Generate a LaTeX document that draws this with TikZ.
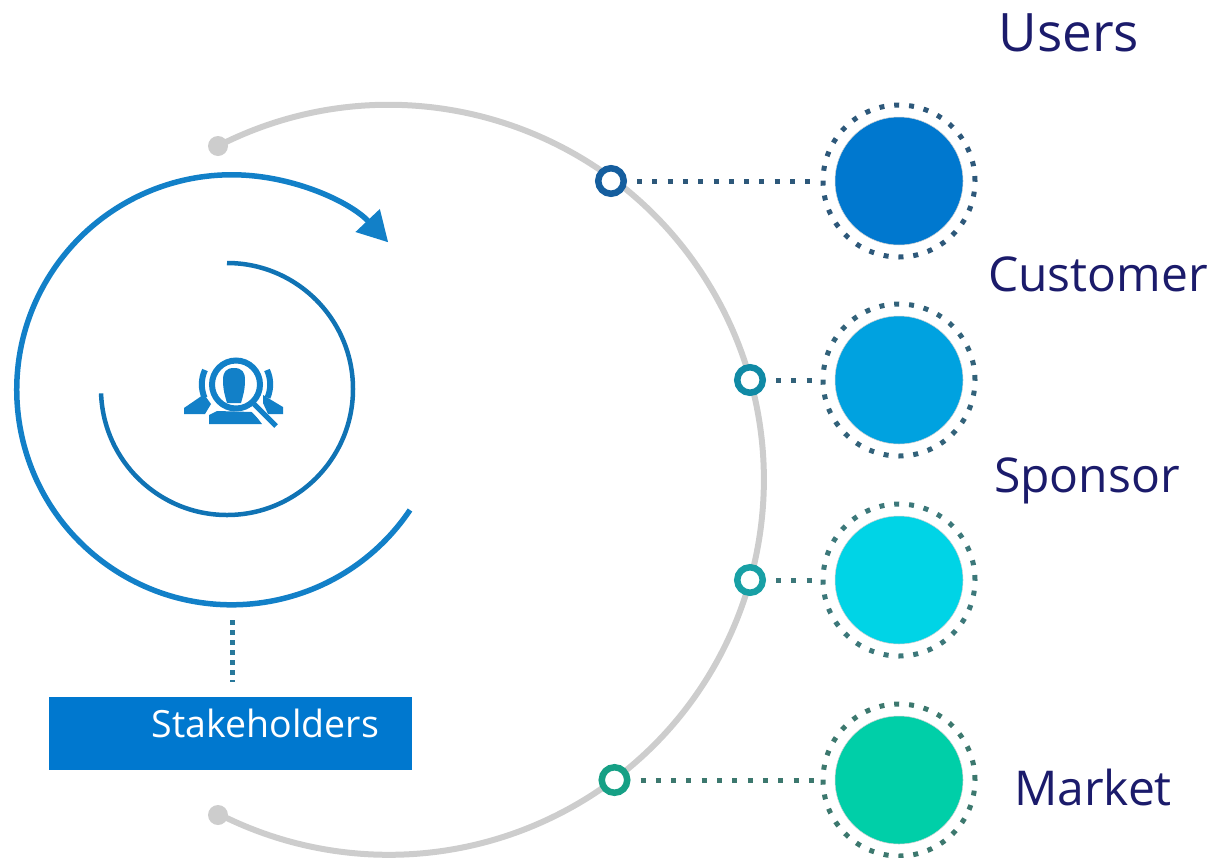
\documentclass[tikz,border=0pt]{standalone}
\usepackage{fontspec}
\setmainfont{Open Sans}
\usetikzlibrary{arrows.meta,positioning}
\definecolor{ringgrey}{HTML}{CDCDCD}
\definecolor{mainblue}{HTML}{0078CF}
\definecolor{iconblue}{HTML}{1280C8}
\definecolor{navytext}{HTML}{1B1B6B}
\tikzset{
  bigdot/.style={circle, inner sep=0pt, outer sep=0pt, minimum size=128pt, draw=gray!35, line width=0.5pt},
  dotring/.style={circle, inner sep=0pt, minimum size=152pt, draw, line width=5pt, dash pattern=on 5pt off 9.9pt},
  knot/.style={circle, inner sep=0pt, minimum size=25.5pt, fill=white, line width=6.5pt, draw},
  dotlink/.style={line width=5pt, dash pattern=on 5pt off 10.3pt, shorten <=10pt},
  heading/.style={text=navytext, inner sep=0pt, anchor=base}
}
\begin{document}
\begin{tikzpicture}[x=1pt, y=-1pt]
\useasboundingbox (0,0) rectangle (1217,857);

% big grey arc
\node (startdot) [circle, fill=ringgrey, inner sep=0pt, minimum size=20pt] at (218,146) {};
\node (enddot) [circle, fill=ringgrey, inner sep=0pt, minimum size=20pt] at (218,815) {};
\draw[ringgrey, line width=6pt] (startdot.center) arc[start angle=117.1, end angle=-117, radius=375pt];

% blue spiral
\draw[iconblue, line width=5.5pt, -{Triangle[length=30pt, width=32pt]}] (410,510) arc[start angle=-34, end angle=-316.7, radius=215pt];
\draw[iconblue!90!black, line width=4.5pt] (227,263) arc[start angle=90, end angle=-178, radius=126pt];

% person icon
\fill[iconblue] (234,368) .. controls (226,368) and (223,372) .. (223,380) .. controls (223,390) and (225,396) .. (227,403) -- (241,403) .. controls (243,396) and (245,390) .. (245,380) .. controls (245,372) and (242,368) .. (234,368) -- cycle;
\draw[iconblue, line width=6pt] (236,384.5) circle[radius=24pt];
\fill[iconblue] (209,424) -- (209,415) -- (217,411) -- (253,412) -- (262,424) -- cycle;
\fill[iconblue] (184,414) -- (184,408) -- (203,395) -- (206,397) -- (211,404) -- (205,414) -- cycle;
\fill[iconblue] (283,414) -- (283,407) -- (263,395) -- (263,403) -- (268,414) -- cycle;
\draw[iconblue, line width=6pt] (205,370) arc[start angle=155, end angle=203, radius=34pt];
\draw[iconblue, line width=6pt] (267,370) arc[start angle=25, end angle=-23, radius=34pt];
\draw[white, line width=3pt] (250,408) -- (272,430);
\draw[iconblue, line width=5pt] (254,404) -- (276,426);

% right column
\node (users) [bigdot, fill=mainblue] at (899,181) {};
\node (customer) [bigdot, fill={rgb,255:red,0;green,162;blue,224}, below=71pt of users] {};
\node (sponsor) [bigdot, fill={rgb,255:red,0;green,212;blue,230}, below=72pt of customer] {};
\node (market) [bigdot, fill={rgb,255:red,0;green,207;blue,168}, below=72pt of sponsor] {};

\node (usersring) [dotring, draw={rgb,255:red,45;green,88;blue,122}] at (users) {};
\node (customerring) [dotring, draw={rgb,255:red,50;green,98;blue,122}] at (customer) {};
\node (sponsorring) [dotring, draw={rgb,255:red,60;green,120;blue,122}] at (sponsor) {};
\node (marketring) [dotring, draw={rgb,255:red,60;green,120;blue,110}] at (market) {};

\node (k1) [knot, draw={rgb,255:red,21;green,94;blue,158}] at (611,181) {};
\node (k2) [knot, draw={rgb,255:red,16;green,138;blue,165}] at (750,380) {};
\node (k3) [knot, draw={rgb,255:red,24;green,160;blue,165}] at (750,580) {};
\node (k4) [knot, draw={rgb,255:red,22;green,160;blue,133}] at (614.5,780) {};

\draw[dotlink, draw={rgb,255:red,45;green,88;blue,122}] (k1) -- (usersring);
\draw[dotlink, draw={rgb,255:red,50;green,98;blue,122}] (k2) -- (customerring);
\draw[dotlink, draw={rgb,255:red,60;green,120;blue,122}] (k3) -- (sponsorring);
\draw[dotlink, draw={rgb,255:red,60;green,120;blue,110}] (k4) -- (marketring);

\node (userslabel) [heading, font=\fontsize{53pt}{53pt}\selectfont] at (1069,51) {Users};
\node (customerlabel) [heading, font=\fontsize{48pt}{48pt}\selectfont] at (1098,291) {Customer};
\node (sponsorlabel) [heading, font=\fontsize{48pt}{48pt}\selectfont] at (1087,492) {Sponsor};
\node (marketlabel) [heading, font=\fontsize{48pt}{48pt}\selectfont] at (1093,805) {Market};

% stakeholders box
\node (stake) [fill=mainblue, inner sep=0pt, minimum width=363pt, minimum height=73pt] at (230.5,733.5) {};
\node (stakelabel) [text=white, font=\fontsize{37.5pt}{37.5pt}\selectfont, inner sep=0pt, anchor=base] at (265.5,737) {Stakeholders};
\coordinate (spiralfoot) at (232,605);
\draw[line width=5pt, draw={rgb,255:red,40;green,120;blue,155}, dash pattern=on 5pt off 5pt, shorten <=15pt, shorten >=15pt] (spiralfoot) -- (spiralfoot |- stake.north);
\end{tikzpicture}
\end{document}
